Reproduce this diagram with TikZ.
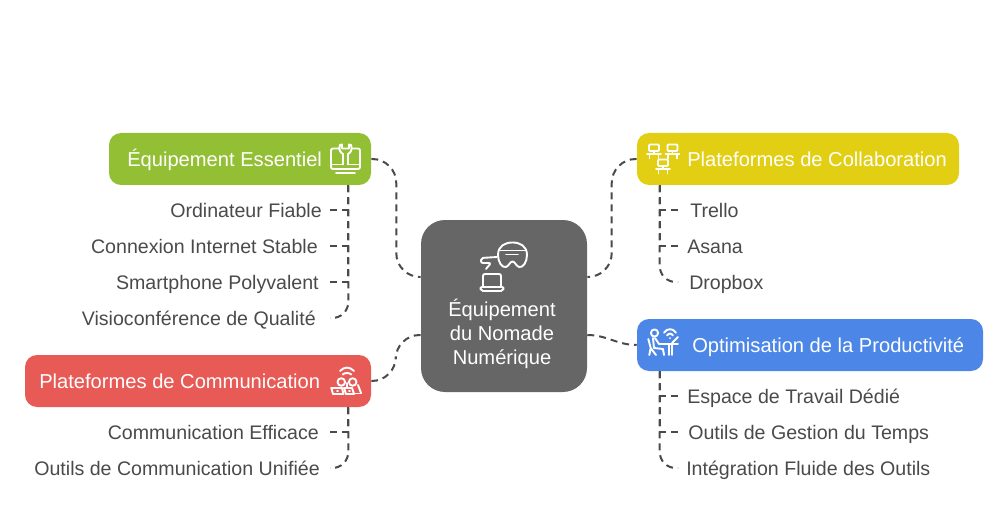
\documentclass[tikz,border=0pt]{standalone}
\usepackage{fontspec}
\setmainfont{Liberation Sans}
\definecolor{essentiel}{RGB}{147,191,53}
\definecolor{collab}{RGB}{226,207,19}
\definecolor{produc}{RGB}{76,135,232}
\definecolor{commun}{RGB}{232,90,85}
\definecolor{nomade}{RGB}{102,102,102}
\definecolor{leaftext}{RGB}{74,74,74}
\def\px{0.75pt}
\tikzset{
  mainbox/.style={fill=nomade, rounded corners=24*\px, minimum width=166*\px, minimum height=172*\px, inner sep=0pt},
  catbox/.style={rounded corners=12*\px, minimum height=52*\px, inner sep=0pt},
  cattext/.style={text=white, font=\fontsize{15.1pt}{18pt}\selectfont, anchor=west, inner sep=0pt, text height=10.7pt, text depth=0pt},
  leaf/.style={text=leaftext, font=\fontsize{14.7pt}{18pt}\selectfont, inner ysep=0pt, text height=10.6pt, text depth=0pt},
  link/.style={draw=leaftext, line width=2*\px, dash pattern=on 7*\px off 5*\px},
  icon/.style={draw=white, line width=1.9*\px, line cap=round, line join=round},
}
\begin{document}
\begin{tikzpicture}[x=0.75pt, y=-0.75pt]
  \useasboundingbox (0,0) rectangle (1008,528);

  % Center
  \node[mainbox] (main) at (504,306) {};
  \node[cattext, anchor=center] (mainA) at (502,309) {Équipement};
  \node[cattext, anchor=center] (mainB) at (502,333) {du Nomade};
  \node[cattext, anchor=center] (mainC) at (502,357) {Numérique};

  % Categories
  \node[catbox, fill=essentiel, minimum width=262*\px] (equip) at (240,159) {};
  \node[catbox, fill=collab, minimum width=322*\px] (plat) at (798,159) {};
  \node[catbox, fill=produc, minimum width=346*\px] (optim) at (810,345) {};
  \node[catbox, fill=commun, minimum width=346*\px] (comm) at (198,381) {};

  \node[cattext] (equipT) at (127,159) {Équipement Essentiel};
  \node[cattext] (platT) at (687,159) {Plateformes de Collaboration};
  \node[cattext] (optimT) at (692,345) {Optimisation de la Productivité};
  \node[cattext] (commT) at (39,381) {Plateformes de Communication};

  % Leaves on the left
  \foreach \name/\x/\y/\gap/\txt in {
    ordi/330/210/8/Ordinateur Fiable,
    conn/330/246/12/Connexion Internet Stable,
    smart/330/282/11/Smartphone Polyvalent,
    visio/330/318/14/Visioconférence de Qualité,
    effic/330/432/11/Communication Efficace,
    unif/330/468/10/Outils de Communication Unifiée} {
    \node[leaf, anchor=east, inner xsep=\gap*\px] (\name) at (\x,\y) {\txt};
  }

  % Leaves on the right
  \foreach \name/\x/\y/\gap/\txt in {
    trello/678/210/12/Trello,
    asana/678/246/9/Asana,
    dropbox/678/282/11/Dropbox,
    espace/678/396/9/Espace de Travail Dédié,
    gestion/678/432/10/Outils de Gestion du Temps,
    integ/678/468/8/Intégration Fluide des Outils} {
    \node[leaf, anchor=west, inner xsep=\gap*\px] (\name) at (\x,\y) {\txt};
  }

  % Center to categories
  \draw[link, rounded corners=24*\px] (equip.east) -- ++(25,0) |- ([yshift=21.75pt]main.west);
  \draw[link, rounded corners=24*\px] (plat.west) -- ++(-25,0) |- ([yshift=21.75pt]main.east);
  \draw[link, rounded corners=24*\px] ([yshift=-21.75pt]main.west) -- ++(-25,0) |- (comm.east);
  \draw[link] ([yshift=-21.75pt]main.east) to[out=0, in=180] (optim.west);

  % Trunks
  \foreach \leaf in {ordi, conn, smart}
    \draw[link] ([xshift=-17.25pt]equip.south east) |- (\leaf.east);
  \draw[link, rounded corners=16*\px] ([xshift=-17.25pt]equip.south east) |- (visio.east);
  \draw[link] ([xshift=-17.25pt]comm.south east) |- (effic.east);
  \draw[link, rounded corners=16*\px] ([xshift=-17.25pt]comm.south east) |- (unif.east);
  \foreach \leaf in {trello, asana}
    \draw[link] ([xshift=17.25pt]plat.south west) |- (\leaf.west);
  \draw[link, rounded corners=16*\px] ([xshift=17.25pt]plat.south west) |- (dropbox.west);
  \foreach \leaf in {espace, gestion}
    \draw[link] ([xshift=17.25pt]optim.south west) |- (\leaf.west);
  \draw[link, rounded corners=16*\px] ([xshift=17.25pt]optim.south west) |- (integ.west);

  % Icon: monitor and wrench
  \draw[icon, rounded corners=2*\px] (339,148.5) -- (331,148.5) -- (331,169) -- (360,169) -- (360,148.5) -- (352,148.5);
  \draw[icon] (331,164.5) -- (343,164.5) (348,164.5) -- (360,164.5);
  \draw[icon] (336,172.7) -- (355,172.7);
  \draw[icon] (340,145) .. controls (338,150) and (341,153) .. (343,154) -- (343,164.5);
  \draw[icon] (351,145) .. controls (353,150) and (350,153) .. (348,154) -- (348,164.5);
  \draw[icon] (340,145) -- (342,144.5) -- (342,148.5) -- (349,148.5) -- (349,144.5) -- (351,145);

  % Icon: three desks
  \foreach \dx/\dy in {0/0, 18.5/0, 9/15} {
    \draw[icon, shift={(\dx,\dy)}, rounded corners=1*\px] (649,144.5) rectangle (659,151);
    \draw[icon, shift={(\dx,\dy)}] (647,154) -- (661,154) (649.5,154) -- (649.5,158.5) (658.5,154) -- (658.5,158.5);
    \draw[icon, shift={(\dx,\dy)}] (654,151) -- (654,154);
  }

  % Icon: person at desk
  \draw[icon] (654.5,333) circle[radius=3.6*\px];
  \draw[icon] (653,338) -- (654,348) -- (663,349) -- (664,355);
  \draw[icon] (655,338) -- (659,344) -- (678,344);
  \draw[icon] (648.3,339) -- (650.7,348) -- (649.3,355) (650.7,348) -- (656,355);
  \draw[icon] (669.3,344) -- (669.3,355) (672.3,344) -- (672.3,355);
  \draw[icon] (672,343) -- (678,337);
  \draw[icon] (664,332.7) .. controls (667,328) and (673,328) .. (676,332.7);
  \draw[icon] (667,335.5) .. controls (669,333) and (671,333) .. (673,335.5);
  \draw[icon] (670,338) -- (670,338.1);

  % Icon: two people and laptops
  \draw[icon] (340,371) .. controls (344,366.5) and (350,366.5) .. (354,371);
  \draw[icon] (342.7,374.5) .. controls (345,372.5) and (349,372.5) .. (351.3,374.5);
  \draw[icon] (341.3,382) circle[radius=3.8*\px] (352.7,382) circle[radius=3.8*\px];
  \draw[icon] (347,383) -- (347,387) (358,385) -- (361,393);
  \draw[icon] (331.3,388) -- (342,388) -- (343.5,394) -- (333,394) -- cycle;
  \draw[icon] (344,388) -- (352,388) -- (354,394) -- (346,394) -- cycle;
  \draw[icon] (337,391) -- (338,391) (349,391) -- (350,391) (354,393.5) -- (361,393.5);

  % Icon: goggles and laptop
  \draw[icon] (498,255) .. controls (498,246) and (505,242.5) .. (512.5,242.5) .. controls (520,242.5) and (527,246) .. (527,255) .. controls (527,262) and (523,268) .. (519,267) .. controls (516,266) and (515,261.5) .. (512.5,261.5) .. controls (510,261.5) and (509,266) .. (506,267) .. controls (502,268) and (498,262) .. (498,255) -- cycle;
  \draw[icon] (499,250.5) -- (526,250.5);
  \draw[icon] (506,254.5) -- (518,254.5);
  \draw[icon, rounded corners=2*\px] (483,287) -- (483,274) -- (501,274) -- (501,287);
  \draw[icon, rounded corners=2*\px] (480,287) -- (504,287) -- (503,291) -- (481,291) -- cycle;
  \draw[icon, rounded corners=2*\px] (497,257) -- (481,258) -- (481,263) -- (491,263) -- (486,269);
\end{tikzpicture}
\end{document}
